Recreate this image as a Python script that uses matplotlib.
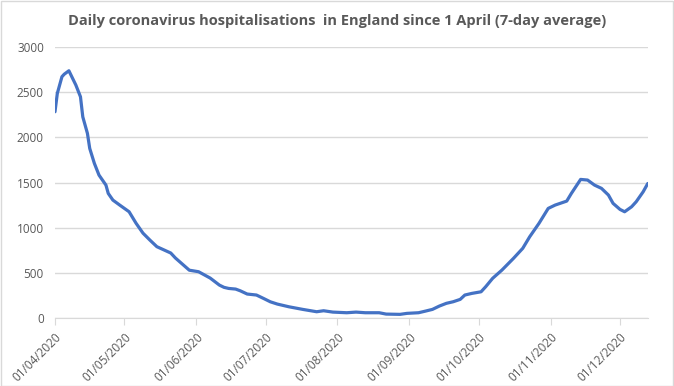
import matplotlib
matplotlib.use('Agg')
import matplotlib.pyplot as plt
import matplotlib.dates as mdates
from matplotlib.patches import Rectangle
import pandas as pd

# Days after 1 April 2020 and the 7-day average
day_offsets = [0, 1, 3, 4, 6, 9, 11, 12, 14, 15, 17, 19, 22, 23, 25, 28, 32, 35,
               38, 41, 44, 50, 52, 58, 62, 67, 71, 73, 75, 78, 80, 83, 87, 90,
               93, 96, 101, 107, 113, 116, 120, 126, 130, 134, 140, 143, 149,
               152, 157, 160, 163, 166, 169, 172, 175, 177, 180, 184, 186, 189,
               193, 198, 202, 205, 209, 213, 216, 221, 223, 227, 230, 233, 236,
               239, 241, 244, 246, 249, 251, 254, 256]
admissions = [2284, 2487, 2672, 2700, 2738, 2580, 2450, 2228, 2045, 1878, 1713,
              1583, 1472, 1380, 1306, 1250, 1177, 1050, 940, 863, 790, 720, 665,
              530, 513, 443, 365, 340, 328, 321, 302, 266, 255, 218, 180, 155,
              125, 96, 70, 81, 66, 59, 66, 59, 59, 44, 41, 52, 59, 77, 96, 133,
              163, 181, 207, 255, 273, 291, 347, 440, 531, 661, 772, 900, 1048,
              1214, 1251, 1295, 1380, 1535, 1528, 1472, 1436, 1362, 1270, 1203,
              1177, 1232, 1288, 1398, 1490]
tick_dates = ['2020-04-01', '2020-05-01', '2020-06-01', '2020-07-01', '2020-08-01',
              '2020-09-01', '2020-10-01', '2020-11-01', '2020-12-01']
y_ticks = [0, 500, 1000, 1500, 2000, 2500, 3000]

start = pd.Timestamp('2020-04-01')
dates = [start + pd.Timedelta(days=d) for d in day_offsets]

plt.rcParams['font.family'] = ['Open Sans', 'DejaVu Sans']
grey = '#595959'

fig = plt.figure(figsize=(6.74, 3.86), dpi=100)
ax = fig.add_axes([0.0816, 0.176, 0.8795, 0.702])

ax.plot(dates, admissions, color='#4472C4', linewidth=2.3,
        solid_capstyle='round', solid_joinstyle='round')

ax.set_xlim(start, start + pd.Timedelta(days=256))
ax.set_ylim(0, 3000)
ax.set_yticks(y_ticks)
ax.set_xticks([pd.Timestamp(t) for t in tick_dates])
ax.xaxis.set_major_formatter(mdates.DateFormatter('%d/%m/%Y'))
plt.setp(ax.get_xticklabels(), rotation=45, ha='right', rotation_mode='anchor')

ax.grid(axis='y', color='#D9D9D9', linewidth=1)
ax.set_axisbelow(True)
for side in ['top', 'right', 'left']:
    ax.spines[side].set_visible(False)
ax.spines['bottom'].set_color('#D9D9D9')
ax.tick_params(axis='x', colors='#D9D9D9', labelcolor=grey, labelsize=8.5,
               length=5, direction='out', pad=4)
ax.tick_params(axis='y', labelcolor=grey, labelsize=8.5, length=0, pad=8)

fig.suptitle('Daily coronavirus hospitalisations  in England since 1 April (7-day average)',
             x=0.5, y=0.965, fontsize=10.5, fontweight='bold', color=grey)

# chart border like the spreadsheet export
fig.patches.append(Rectangle((0.001, 0.001), 0.997, 0.996, transform=fig.transFigure,
                             fill=False, edgecolor='#D9D9D9', linewidth=1))

fig.savefig('out.png', dpi=100)
